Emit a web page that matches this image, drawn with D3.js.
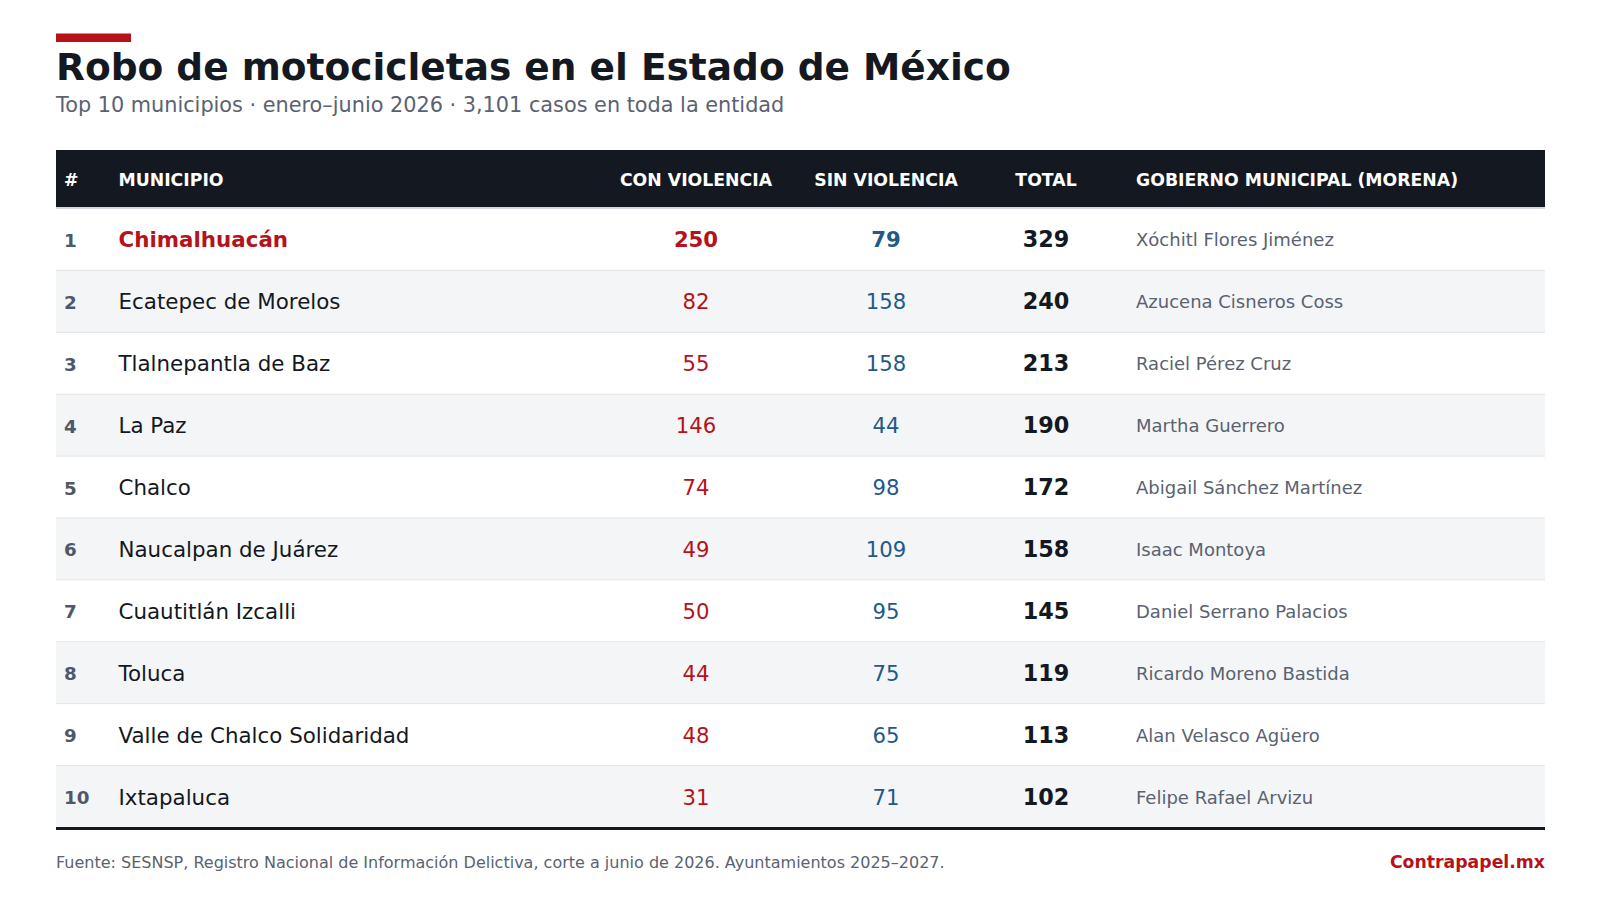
<!DOCTYPE html>
<html><head><meta charset="utf-8">
<script src="https://cdn.jsdelivr.net/npm/d3@7"></script>
<style>body{margin:0;background:#fff;}svg{display:block;font-family:"DejaVu Sans",sans-serif;}</style>
</head><body><svg id="c" width="1600" height="918"></svg>
<script>
const ranks = [1,2,3,4,5,6,7,8,9,10];
const municipios = ["Chimalhuacán","Ecatepec de Morelos","Tlalnepantla de Baz","La Paz","Chalco","Naucalpan de Juárez","Cuautitlán Izcalli","Toluca","Valle de Chalco Solidaridad","Ixtapaluca"];
const conViolencia = [250,82,55,146,74,49,50,44,48,31];
const sinViolencia = [79,158,158,44,98,109,95,75,65,71];
const totales = [329,240,213,190,172,158,145,119,113,102];
const gobiernos = ["Xóchitl Flores Jiménez","Azucena Cisneros Coss","Raciel Pérez Cruz","Martha Guerrero","Abigail Sánchez Martínez","Isaac Montoya","Daniel Serrano Palacios","Ricardo Moreno Bastida","Alan Velasco Agüero","Felipe Rafael Arvizu"];
const headers = ["#","MUNICIPIO","CON VIOLENCIA","SIN VIOLENCIA","TOTAL","GOBIERNO MUNICIPAL (MORENA)"];

const RED="#b5121b", BLUE="#1f5a8a", DARK="#141820", GRAY="#5a6270";
const svg = d3.select("#c");
const L=56, R=1545;

svg.append("rect").attr("x",L).attr("y",33.5).attr("width",75).attr("height",8.5).attr("fill",RED);
svg.append("text").attr("x",L).attr("y",79.5).attr("font-size",37.5).attr("font-weight","bold").attr("fill",DARK).text("Robo de motocicletas en el Estado de México");
svg.append("text").attr("x",L).attr("y",112).attr("font-size",20.8).attr("fill",GRAY).text("Top 10 municipios · enero–junio 2026 · 3,101 casos en toda la entidad");

// header
svg.append("rect").attr("x",L).attr("y",150).attr("width",R-L).attr("height",57).attr("fill",DARK);
svg.append("rect").attr("x",L).attr("y",207).attr("width",R-L).attr("height",2).attr("fill","#d5d9df");
const colX=[64,118.5,696,886,1046,1136];
const colAnchor=["start","start","middle","middle","middle","start"];
svg.selectAll("text.h").data(headers).join("text").attr("class","h")
  .attr("x",(d,i)=>colX[i]).attr("y",185.5).attr("text-anchor",(d,i)=>colAnchor[i])
  .attr("font-size",17.3).attr("font-weight","bold").attr("fill","#fff").text(d=>d);

const y = d3.scaleBand().domain(ranks).range([209,828]);
const rows = svg.selectAll("g.row").data(ranks).join("g").attr("class","row")
  .attr("transform",d=>`translate(0,${y(d)})`);
rows.append("rect").attr("x",L).attr("width",R-L).attr("height",y.bandwidth()).attr("fill",(d,i)=>i%2?"#f4f5f7":"#fff");
rows.filter((d,i)=>i<9).append("rect").attr("x",L).attr("y",y.bandwidth()-1).attr("width",R-L).attr("height",1.5).attr("fill","#e1e4e8");
const cy = y.bandwidth()/2 + 7.5;
rows.append("text").attr("x",colX[0]).attr("y",cy-0.5).attr("font-size",18.3).attr("font-weight","bold").attr("fill","#4f5867").text(d=>d);
rows.append("text").attr("x",colX[1]).attr("y",cy).attr("font-size",21.4).attr("font-weight",(d,i)=>i===0?"bold":"normal").attr("fill",(d,i)=>i===0?RED:DARK).text((d,i)=>municipios[i]);
rows.append("text").attr("x",colX[2]).attr("y",cy).attr("text-anchor","middle").attr("font-size",21.2).attr("font-weight",(d,i)=>i===0?"bold":"normal").attr("fill",RED).text((d,i)=>conViolencia[i]);
rows.append("text").attr("x",colX[3]).attr("y",cy).attr("text-anchor","middle").attr("font-size",21.2).attr("font-weight",(d,i)=>i===0?"bold":"normal").attr("fill",BLUE).text((d,i)=>sinViolencia[i]);
rows.append("text").attr("x",colX[4]).attr("y",cy).attr("text-anchor","middle").attr("font-size",22.3).attr("font-weight","bold").attr("fill",DARK).text((d,i)=>totales[i]);
rows.append("text").attr("x",colX[5]).attr("y",cy-1).attr("font-size",18).attr("fill",GRAY).text((d,i)=>gobiernos[i]);

svg.append("rect").attr("x",L).attr("y",827).attr("width",R-L).attr("height",3).attr("fill",DARK);
svg.append("text").attr("x",L).attr("y",867.5).attr("font-size",16).attr("fill",GRAY).text("Fuente: SESNSP, Registro Nacional de Información Delictiva, corte a junio de 2026. Ayuntamientos 2025–2027.");
svg.append("text").attr("x",R).attr("y",867.5).attr("text-anchor","end").attr("font-size",17.3).attr("font-weight","bold").attr("fill",RED).text("Contrapapel.mx");
</script></body></html>
